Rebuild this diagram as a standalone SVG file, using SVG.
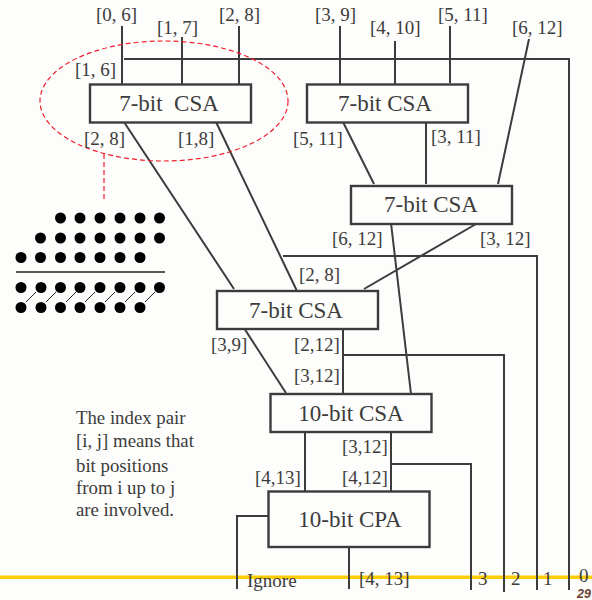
<svg xmlns="http://www.w3.org/2000/svg" width="592" height="600" viewBox="0 0 592 600">
<style>
text{font-family:"Liberation Serif","Times New Roman",serif;fill:#3c3c3c}
.l{font-size:19px}
.b{font-size:23px;text-anchor:middle}
.m{font-size:18.800px}
.n{fill:#fdfdfb;stroke:#3c3c3c;stroke-width:2.400}
.c{fill:none;stroke:#3c3c3c;stroke-width:2}
.r{fill:none;stroke:#f02030;stroke-width:1.200;stroke-dasharray:5 3}
</style>
<rect width="592" height="600" fill="#fdfdfb"/>
<rect x="0" y="575.500" width="592" height="3.500" fill="#ffcc00"/>
<g id="connectors">
<path class="c" d="M122 26V84M182 37V84M239 26V84M124 59H569V590M340 26V84M395 41V84M450 26V83M529 39L498 184M124 122L234 289M216 122L297 291M343 122L374 184M426 122V184M391 223L411 394M476 224L364 289M283 256H537V590M343 329V394M343 355H504V592M244 328L286 393M305 432V492M391 432V492M392 464H471V590M268 516H237V589M349 547V589"/>
</g>
<g id="highlight">
<ellipse class="r" cx="164" cy="101" rx="124" ry="60"/>
<path class="r" d="M104 154V200"/>
</g>
<g id="dots">
<g fill="#000">
<circle cx="60.500" cy="218" r="5.500"/><circle cx="80" cy="218" r="5.500"/><circle cx="100" cy="218" r="5.500"/><circle cx="120" cy="218" r="5.500"/><circle cx="140" cy="218" r="5.500"/><circle cx="159.500" cy="218" r="5.500"/>
<circle cx="40.500" cy="238" r="5.500"/><circle cx="60.500" cy="238" r="5.500"/><circle cx="80" cy="238" r="5.500"/><circle cx="100" cy="238" r="5.500"/><circle cx="120" cy="238" r="5.500"/><circle cx="140" cy="238" r="5.500"/><circle cx="159.500" cy="238" r="5.500"/>
<circle cx="21" cy="257.500" r="5.500"/><circle cx="40.500" cy="257.500" r="5.500"/><circle cx="60.500" cy="257.500" r="5.500"/><circle cx="80" cy="257.500" r="5.500"/><circle cx="100" cy="257.500" r="5.500"/><circle cx="120" cy="257.500" r="5.500"/><circle cx="140" cy="257.500" r="5.500"/>
<circle cx="21" cy="287.500" r="5.500"/><circle cx="41" cy="287.500" r="5.500"/><circle cx="60.500" cy="287.500" r="5.500"/><circle cx="80" cy="287.500" r="5.500"/><circle cx="100" cy="287.500" r="5.500"/><circle cx="120" cy="287.500" r="5.500"/><circle cx="140" cy="287.500" r="5.500"/><circle cx="159.500" cy="287.500" r="5.500"/>
<circle cx="21" cy="307.500" r="5.500"/><circle cx="41" cy="307.500" r="5.500"/><circle cx="60.500" cy="307.500" r="5.500"/><circle cx="80" cy="307.500" r="5.500"/><circle cx="100" cy="307.500" r="5.500"/><circle cx="120" cy="307.500" r="5.500"/><circle cx="140" cy="307.500" r="5.500"/>
</g>
<path d="M16 272H165" stroke="#222" stroke-width="1.300" fill="none"/>
<path d="M26 302L36 292M46 302L56 292M66 302L76 292M85 302L95 292M105 302L115 292M125 302L135 292M145 302L155 292" stroke="#222" stroke-width="1" fill="none"/>
</g>
<g id="csa1"><rect class="n" x="90" y="84.500" width="161" height="38"/><text class="b" x="169" y="111" xml:space="preserve">7-bit  CSA</text></g>
<g id="csa2"><rect class="n" x="307" y="84.500" width="161" height="38"/><text class="b" x="385" y="111">7-bit CSA</text></g>
<g id="csa3"><rect class="n" x="351" y="186" width="161" height="38"/><text class="b" x="431" y="212">7-bit CSA</text></g>
<g id="csa4"><rect class="n" x="217" y="291" width="161" height="38"/><text class="b" x="296" y="318">7-bit CSA</text></g>
<g id="csa5"><rect class="n" x="270.500" y="394" width="161" height="38"/><text class="b" x="351" y="421">10-bit CSA</text></g>
<g id="cpa"><rect class="n" x="268.500" y="491.500" width="161" height="55.500"/><text class="b" x="350" y="527">10-bit CPA</text></g>
<g id="labels">
<text class="l" x="96" y="21">[0, 6]</text><text class="l" x="157" y="34">[1, 7]</text><text class="l" x="219" y="21">[2, 8]</text>
<text class="l" x="75" y="76">[1, 6]</text><text class="l" x="84" y="145">[2, 8]</text><text class="l" x="178" y="145">[1,8]</text>
<text class="l" x="315" y="21">[3, 9]</text><text class="l" x="370" y="34">[4, 10]</text><text class="l" x="438" y="21">[5, 11]</text><text class="l" x="512" y="34">[6, 12]</text>
<text class="l" x="293" y="145">[5, 11]</text><text class="l" x="431" y="143">[3, 11]</text>
<text class="l" x="332" y="245">[6, 12]</text><text class="l" x="480" y="245">[3, 12]</text><text class="l" x="299" y="281">[2, 8]</text>
<text class="l" x="211" y="351">[3,9]</text><text class="l" x="294" y="351">[2,12]</text><text class="l" x="294" y="382">[3,12]</text>
<text class="l" x="342" y="453">[3,12]</text><text class="l" x="255" y="484">[4,13]</text><text class="l" x="342" y="484">[4,12]</text>
<text class="l" x="247" y="587">Ignore</text><text class="l" x="359" y="585">[4, 13]</text>
<text class="l" x="478" y="585">3</text><text class="l" x="511" y="585">2</text><text class="l" x="543" y="585">1</text><text class="l" x="579" y="582">0</text>
</g>
<g id="note">
<text class="m" x="76" y="424">The index pair</text>
<text class="m" x="76" y="447">[i, j] means that</text>
<text class="m" x="76" y="472">bit positions</text>
<text class="m" x="76" y="494">from i up to j</text>
<text class="m" x="76" y="516">are involved.</text>
</g>
<text x="577" y="598" style="font-family:'Liberation Sans',Arial,sans-serif;font-size:12.500px;font-weight:bold;font-style:italic;fill:#6b4030">29</text>
</svg>
